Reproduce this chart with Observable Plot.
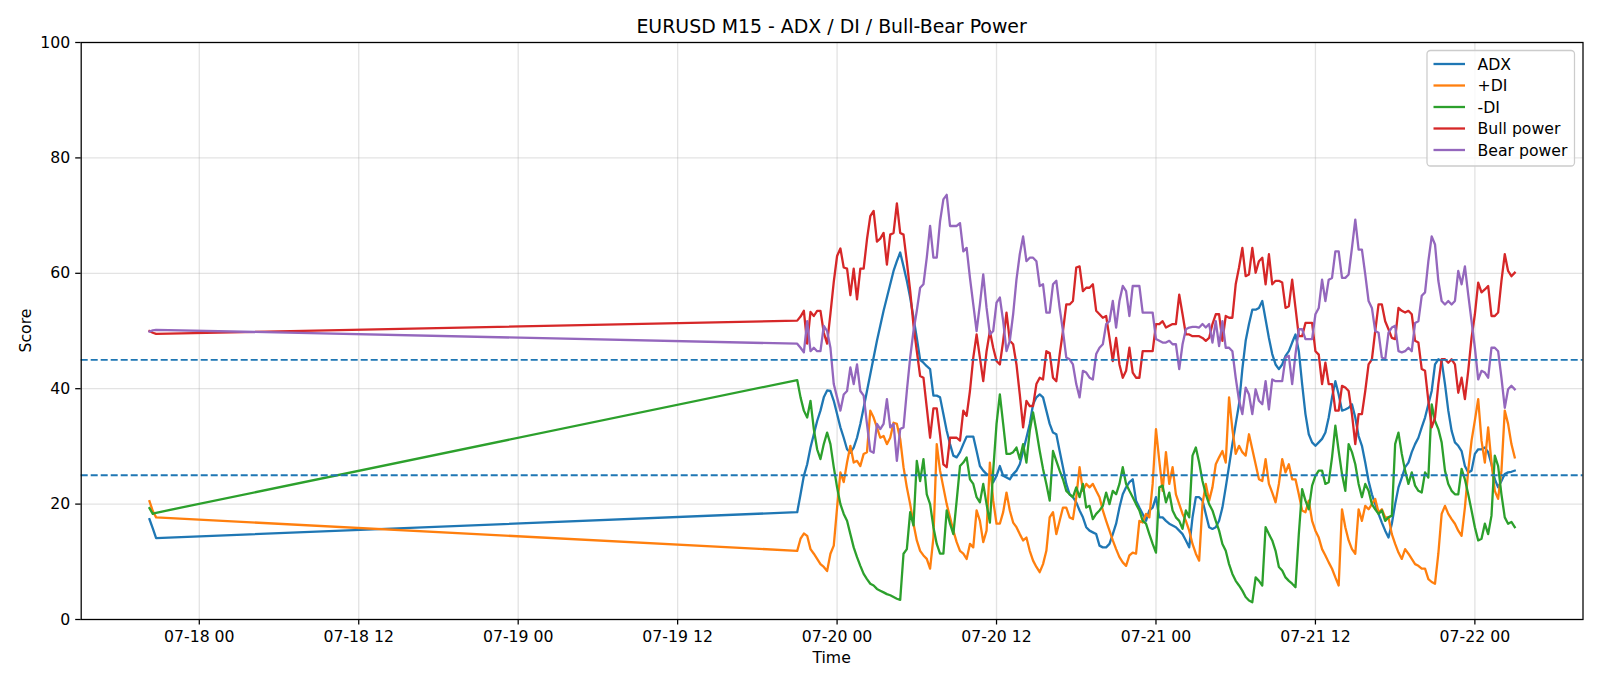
<!DOCTYPE html>
<html>
<head>
<meta charset="utf-8">
<script src="https://cdn.jsdelivr.net/npm/d3@7"></script>
<script src="https://cdn.jsdelivr.net/npm/@observablehq/plot@0.6"></script>
<style>
  html, body { margin: 0; padding: 0; background: #fff; }
  #wrap { position: relative; width: 1600px; height: 686px; overflow: hidden; background: #fff; }
  #wrap > svg { position: absolute; left: 0; top: 0; }
  #overlay { pointer-events: none; }
</style>
</head>
<body>
<div id="wrap"></div>
<script>
// ---------------- DATA ----------------
const titleText = "EURUSD M15 - ADX / DI / Bull-Bear Power";
const xLabel = "Time";
const yLabel = "Score";
const seriesNames = ["ADX", "+DI", "-DI", "Bull power", "Bear power"];
const seriesColors = ["#1f77b4", "#ff7f0e", "#2ca02c", "#d62728", "#9467bd"];

// trading sessions of 15-minute bars: [first bar (UTC), number of bars]
const sessions = [["2020-07-17T20:15:00Z", 3], ["2020-07-19T21:00:00Z", 217]];
const barMinutes = 15;

const adx = [
  17.4, 15.8, 14.1,
  18.6, 21.7, 24.9, 26.9, 29.8, 32.1, 34.4, 36.2, 38.5, 39.7,
  39.6, 37.9, 35.6, 33.3, 31.5, 29.5, 28.9, 29.8, 31.5, 33.9,
  36.7, 39.6, 42.5, 45.4, 48.3, 50.9, 53.5, 55.8, 58.1, 60.4,
  62.1, 63.6, 61.2, 58.7, 55.8, 52.3, 48.8, 45.0, 44.5, 43.9,
  43.4, 38.8, 38.8, 38.5, 35.6, 32.7, 30.4, 28.4, 28.1, 29.0,
  30.4, 31.7, 31.7, 31.7, 29.2, 26.6, 25.8, 25.2, 24.9, 23.8,
  24.9, 26.6, 24.9, 24.6, 24.3, 25.2, 25.8, 26.9, 29.2, 31.5,
  33.9, 37.3, 38.5, 39.0, 38.5, 36.2, 33.9, 32.4, 32.1, 29.2,
  26.4, 23.5, 21.7, 21.2, 20.3, 18.9, 17.7, 16.0, 15.4, 15.1,
  14.8, 12.8, 12.5, 12.5, 13.1, 14.8, 16.6, 19.4, 21.7, 22.9,
  23.8, 24.3, 20.6, 19.4, 18.3, 17.1, 18.9, 19.4, 21.2, 17.7,
  17.7, 17.1, 16.6, 16.3, 16.0, 15.4, 14.8, 13.7, 12.5, 17.7,
  21.2, 21.2, 20.6, 18.3, 16.0, 15.7, 16.0, 17.1, 19.4, 22.9,
  26.6, 30.4, 33.9, 37.3, 43.4, 48.3, 51.2, 53.7, 53.7, 54.0,
  55.2, 52.0, 48.8, 46.0, 44.2, 43.4, 44.2, 45.7, 46.5, 48.0,
  49.4, 46.5, 40.8, 35.6, 32.1, 30.7, 30.1, 30.7, 31.3, 32.4,
  35.0, 38.5, 41.3, 39.0, 36.2, 36.4, 36.7, 37.3, 35.0, 31.8,
  30.1, 27.2, 24.0, 21.7, 20.0, 18.3, 16.8, 15.4, 14.2, 16.6,
  20.0, 22.9, 24.6, 26.4, 27.2, 29.0, 30.4, 31.5, 33.3, 35.0,
  37.3, 39.6, 44.2, 45.1, 44.8, 40.8, 36.2, 32.7, 30.7, 30.1,
  29.2, 26.6, 25.5, 25.8, 28.7, 29.5, 29.5, 29.8, 29.0, 26.9,
  24.3, 22.9, 24.0, 25.2, 25.5, 25.6, 25.8
];

const plusDI = [
  20.5, 18.8, 17.7,
  11.9, 14.0, 14.9, 14.5, 12.2, 11.4, 10.5, 9.6, 9.1, 8.4,
  11.4, 12.8, 19.4, 25.5, 23.8, 27.2, 30.1, 27.2, 27.5, 26.6,
  28.7, 29.0, 36.2, 35.0, 33.3, 31.5, 31.8, 30.4, 31.5, 34.1,
  33.9, 31.3, 26.4, 22.9, 20.0, 16.6, 13.7, 11.9, 11.1, 10.5,
  8.8, 14.2, 30.4, 25.8, 22.9, 20.0, 17.7, 15.4, 13.4, 11.9,
  11.4, 10.5, 13.1, 12.5, 18.9, 17.1, 13.4, 15.4, 27.2, 20.6,
  16.6, 16.6, 18.6, 22.0, 18.9, 16.8, 16.0, 14.8, 13.7, 14.2,
  11.9, 10.2, 9.1, 8.2, 9.6, 11.9, 17.7, 18.6, 14.8, 17.1,
  19.4, 19.4, 17.7, 17.4, 21.2, 26.4, 22.3, 23.5, 22.9, 23.5,
  22.3, 21.2, 18.9, 17.1, 15.4, 13.7, 12.2, 10.8, 9.9, 9.3,
  11.1, 11.6, 11.4, 17.1, 16.8, 18.3, 17.7, 23.5, 33.0, 27.5,
  22.3, 29.0, 23.5, 26.4, 21.7, 20.0, 18.3, 17.1, 15.4, 13.1,
  11.4, 10.2, 20.0, 23.5, 20.6, 22.9, 26.9, 28.1, 29.2, 27.2,
  38.5, 33.0, 28.7, 30.1, 29.0, 28.4, 32.1, 29.5, 26.9, 24.3,
  24.0, 27.8, 23.5, 22.0, 20.3, 23.5, 27.8, 25.5, 26.9, 24.3,
  24.3, 21.7, 18.9, 18.6, 20.6, 17.1, 15.4, 14.2, 12.2, 11.1,
  9.9, 8.8, 7.3, 5.9, 19.1, 16.0, 13.7, 12.2, 11.4, 19.1,
  17.1, 19.7, 19.1, 20.0, 20.9, 18.6, 19.1, 17.7, 17.7, 14.8,
  13.1, 11.6, 10.5, 12.2, 11.4, 10.5, 9.6, 9.3, 8.8, 8.8,
  7.0, 6.5, 6.2, 11.4, 18.3, 19.7, 18.3, 17.4, 16.6, 15.4,
  14.5, 19.4, 25.8, 31.0, 34.5, 38.2, 31.0, 27.2, 33.3, 27.2,
  22.3, 20.9, 25.8, 36.2, 33.9, 30.4, 28.1
];

const minusDI = [
  19.3, 18.3, 18.5,
  41.5, 38.5, 36.2, 35.0, 37.9, 33.0, 29.5, 27.8, 30.4, 32.4,
  30.4, 26.4, 22.9, 20.0, 18.3, 17.1, 14.8, 12.5, 10.8, 9.3,
  7.9, 7.0, 6.2, 5.9, 5.3, 5.0, 4.7, 4.4, 4.2, 3.9,
  3.6, 3.4, 11.4, 12.2, 18.6, 16.3, 27.5, 24.0, 27.8, 21.7,
  20.0, 16.0, 13.1, 11.4, 11.4, 18.9, 16.6, 14.8, 20.6, 26.6,
  27.2, 28.1, 24.3, 23.5, 21.2, 20.3, 23.5, 20.0, 16.8, 25.8,
  33.9, 39.0, 33.9, 28.7, 28.7, 29.0, 29.8, 27.8, 30.4, 27.2,
  32.7, 35.9, 32.7, 29.2, 26.1, 23.5, 20.6, 29.2, 27.5, 25.8,
  24.3, 22.3, 21.7, 21.2, 22.9, 21.2, 23.5, 19.4, 19.7, 17.4,
  18.3, 18.9, 19.7, 22.0, 20.0, 22.3, 21.7, 23.5, 26.4, 23.5,
  22.3, 21.2, 20.0, 18.9, 17.1, 16.6, 14.8, 13.1, 11.6, 22.9,
  23.2, 20.3, 22.0, 18.9, 17.7, 17.1, 15.7, 18.9, 17.7, 28.4,
  29.8, 27.2, 24.0, 21.7, 20.0, 18.9, 17.1, 15.4, 13.1, 11.9,
  9.6, 7.9, 6.7, 5.9, 5.0, 3.9, 3.3, 3.0, 7.3, 6.7,
  5.9, 16.0, 14.8, 13.7, 11.9, 9.1, 8.5, 7.3, 6.7, 6.2,
  5.6, 14.8, 22.6, 20.6, 19.1, 23.2, 24.9, 25.8, 25.8, 23.5,
  23.8, 28.1, 33.6, 29.2, 25.2, 22.3, 30.4, 29.0, 26.9, 23.5,
  21.2, 23.5, 22.3, 20.0, 19.1, 18.3, 18.9, 17.1, 17.7, 18.0,
  30.4, 32.4, 28.7, 25.8, 23.5, 25.5, 23.2, 22.3, 22.0, 25.5,
  24.6, 37.3, 34.4, 33.0, 30.7, 25.8, 23.5, 22.3, 21.7, 21.7,
  26.1, 24.3, 21.7, 18.9, 16.0, 13.7, 14.0, 16.6, 14.8, 18.0,
  28.4, 26.6, 21.7, 17.7, 16.6, 16.9, 16.0
];

const bullPower = [
  50.0, 49.7, 49.5,
  51.8, 52.5, 53.5, 47.8, 53.3, 52.6, 53.5, 53.5, 49.7, 47.8,
  53.0, 58.5, 63.0, 64.3, 61.0, 60.8, 56.2, 60.8, 55.5, 60.8,
  60.8, 65.9, 69.9, 70.8, 65.5, 66.0, 67.0, 61.5, 66.7, 67.0,
  72.1, 67.0, 66.7, 62.0, 57.0, 51.0, 46.5, 42.2, 41.9, 36.7,
  31.5, 36.6, 36.6, 32.0, 26.9, 26.4, 31.5, 31.5, 31.5, 31.0,
  36.2, 35.3, 39.6, 45.4, 49.4, 45.4, 41.3, 46.5, 50.0, 47.1,
  44.8, 44.2, 48.3, 53.2, 48.3, 47.7, 44.2, 39.0, 33.3, 37.9,
  37.0, 37.0, 40.8, 41.9, 41.6, 46.5, 46.2, 41.9, 41.3, 45.9,
  50.0, 54.6, 54.6, 55.2, 61.0, 61.2, 56.9, 57.5, 57.5, 58.1,
  53.5, 52.9, 52.3, 52.6, 48.8, 44.8, 48.8, 44.2, 41.9, 43.1,
  47.1, 42.8, 41.9, 41.9, 46.5, 46.5, 46.5, 46.5, 51.2, 51.2,
  51.7, 50.6, 50.9, 51.2, 51.2, 56.3, 52.9, 49.4, 49.4, 49.1,
  49.1, 49.1, 48.8, 48.3, 48.8, 51.2, 52.9, 52.9, 48.3, 52.6,
  52.3, 52.3, 58.1, 61.0, 64.4, 59.5, 59.8, 64.4, 60.1, 62.1,
  62.7, 58.1, 63.3, 58.1, 58.7, 58.7, 58.4, 54.0, 54.3, 58.9,
  54.0, 49.1, 49.1, 51.4, 51.4, 51.4, 46.5, 45.9, 40.8, 44.5,
  40.8, 40.8, 36.2, 36.2, 40.5, 40.2, 39.6, 35.6, 30.4, 35.6,
  35.6, 39.6, 44.2, 45.1, 50.0, 54.6, 54.6, 51.7, 50.3, 48.8,
  48.6, 54.0, 53.5, 53.2, 53.5, 52.9, 48.3, 48.0, 43.4, 43.1,
  37.9, 33.3, 35.0, 40.8, 45.1, 45.1, 44.5, 45.1, 44.2, 39.3,
  41.9, 38.2, 43.1, 48.8, 52.9, 58.4, 56.7, 57.2, 57.8, 52.6,
  52.6, 53.2, 58.7, 63.3, 60.4, 59.5, 60.1
];

const bearPower = [
  49.9, 50.1, 50.2,
  47.8, 47.1, 46.3, 51.7, 46.5, 47.1, 46.5, 46.5, 50.9, 50.0,
  47.1, 40.8, 38.5, 36.2, 39.0, 39.6, 43.7, 40.8, 44.2, 39.6,
  38.8, 33.9, 29.2, 28.9, 33.9, 33.0, 33.9, 38.2, 33.3, 33.9,
  27.5, 33.0, 33.3, 39.6, 45.4, 50.0, 53.5, 57.5, 58.1, 62.7,
  68.2, 62.7, 62.7, 69.0, 72.8, 73.6, 68.2, 68.2, 68.2, 68.7,
  63.8, 64.4, 59.2, 54.6, 50.0, 54.6, 59.8, 54.0, 49.4, 50.0,
  54.9, 55.8, 51.7, 46.5, 48.3, 52.9, 58.9, 63.3, 66.4, 62.1,
  62.7, 62.7, 62.1, 57.8, 58.1, 53.2, 53.2, 58.1, 58.7, 54.0,
  50.0, 45.4, 45.1, 44.2, 40.8, 38.5, 43.1, 42.8, 41.9, 41.6,
  46.0, 47.1, 47.7, 51.2, 51.7, 55.2, 50.6, 55.2, 57.8, 56.9,
  52.6, 57.8, 57.8, 57.8, 53.2, 53.2, 53.2, 53.2, 48.6, 48.3,
  48.0, 48.0, 48.3, 47.7, 47.7, 43.4, 47.7, 50.3, 50.6, 50.7,
  50.7, 50.6, 51.2, 50.6, 51.2, 48.0, 51.7, 47.4, 51.7, 47.1,
  47.1, 46.5, 41.9, 38.0, 35.6, 40.2, 39.0, 35.6, 39.9, 37.9,
  37.3, 41.3, 36.4, 41.6, 41.3, 41.3, 41.3, 45.4, 45.7, 40.8,
  46.0, 50.3, 50.3, 48.6, 48.6, 48.6, 52.9, 54.0, 58.9, 55.2,
  58.9, 59.2, 63.8, 63.8, 59.2, 59.2, 59.8, 64.4, 69.3, 64.1,
  64.1, 59.8, 55.2, 54.0, 50.0, 49.7, 45.4, 45.1, 49.7, 50.6,
  50.9, 46.5, 46.3, 46.5, 47.1, 46.5, 51.4, 51.7, 56.1, 56.7,
  62.1, 66.4, 65.0, 58.7, 55.2, 54.6, 55.2, 54.6, 55.2, 60.4,
  58.1, 61.2, 56.3, 51.7, 47.1, 41.6, 43.1, 42.8, 41.9, 47.1,
  47.1, 46.5, 41.9, 36.7, 39.9, 40.5, 39.9
];

const thresholds = [45, 25];
const yTicks = [0, 20, 40, 60, 80, 100];
const xTicks = ["2020-07-18T00:00:00Z", "2020-07-18T12:00:00Z", "2020-07-19T00:00:00Z",
  "2020-07-19T12:00:00Z", "2020-07-20T00:00:00Z", "2020-07-20T12:00:00Z",
  "2020-07-21T00:00:00Z", "2020-07-21T12:00:00Z", "2020-07-22T00:00:00Z"];

// ---------------- BUILD ----------------
const times = [];
for (const [start, n] of sessions) {
  const s = +new Date(start);
  for (let i = 0; i < n; i++) times.push(new Date(s + i * barMinutes * 60000));
}
const seriesValues = [adx, plusDI, minusDI, bullPower, bearPower];
const rows = seriesValues.map((vals, k) =>
  times.map((t, i) => ({time: t, value: vals[i], series: seriesNames[k]})).filter(d => d.value != null));

const t0 = +times[0], t1 = +times[times.length - 1];
const pad = (t1 - t0) * 0.05;
const xTickDates = xTicks.map(s => new Date(s));

const W = 1600, H = 686;
const mL = 80.7, mR = 17.5, mT = 42, mB = H - 619;
const font = "DejaVu Sans, sans-serif";

const chart = Plot.plot({
  width: W, height: H,
  marginLeft: mL, marginRight: mR, marginTop: mT, marginBottom: mB,
  style: {fontFamily: font, fontSize: "15.7px", color: "#000", background: "transparent"},
  x: {type: "utc", domain: [new Date(t0 - pad), new Date(t1 + pad)]},
  y: {domain: [0, 100]},
  marks: [
    Plot.gridX({ticks: xTickDates, stroke: "#b0b0b0", strokeOpacity: 0.35, strokeWidth: 1.3}),
    Plot.gridY({ticks: yTicks, stroke: "#b0b0b0", strokeOpacity: 0.35, strokeWidth: 1.3}),
    ...rows.map((data, k) => Plot.line(data, {
      x: "time", y: "value", stroke: seriesColors[k], strokeWidth: 2.3,
      strokeLinejoin: "round", strokeLinecap: "square"
    })),
    Plot.ruleY(thresholds, {stroke: "#1f77b4", strokeWidth: 1.9, strokeDasharray: "7,3"}),
    Plot.axisX({ticks: xTickDates, tickFormat: d3.utcFormat("%m-%d %H"), tickSize: 5.5,
      tickPadding: 5.5, strokeWidth: 1.26, label: null}),
    Plot.axisY({ticks: yTicks, tickSize: 5.5, tickPadding: 5.5, strokeWidth: 1.26, label: null}),
    Plot.frame({stroke: "#000", strokeWidth: 1.26})
  ]
});

const wrap = document.getElementById("wrap");
wrap.appendChild(chart);

// ---------------- TEXT, LEGEND ----------------
const ov = d3.select(wrap).append("svg").attr("id", "overlay")
  .attr("width", W).attr("height", H)
  .style("font-family", font).style("fill", "#000");
const cx = (mL + (W - mR)) / 2;
ov.append("text").attr("x", cx).attr("y", 33.3).attr("text-anchor", "middle")
  .style("font-size", "18.9px").text(titleText);
ov.append("text").attr("x", cx).attr("y", 663).attr("text-anchor", "middle")
  .style("font-size", "15.7px").text(xLabel);
ov.append("text").attr("transform", `translate(30.7,${(mT + H - mB) / 2}) rotate(-90)`)
  .attr("text-anchor", "middle").style("font-size", "15.7px").text(yLabel);

const lg = ov.append("g");
lg.append("rect").attr("x", 1427).attr("y", 50.5).attr("width", 147.5).attr("height", 115.5)
  .attr("rx", 3.5).attr("fill", "#fff").attr("fill-opacity", 0.8)
  .attr("stroke", "#cccccc").attr("stroke-width", 1.26);
seriesNames.forEach((name, k) => {
  const y = 64 + k * 21.5;
  lg.append("line").attr("x1", 1433.5).attr("x2", 1465).attr("y1", y).attr("y2", y)
    .attr("stroke", seriesColors[k]).attr("stroke-width", 2.3);
  lg.append("text").attr("x", 1477.5).attr("y", y + 5.5).style("font-size", "15.7px").text(name);
});
</script>
</body>
</html>
